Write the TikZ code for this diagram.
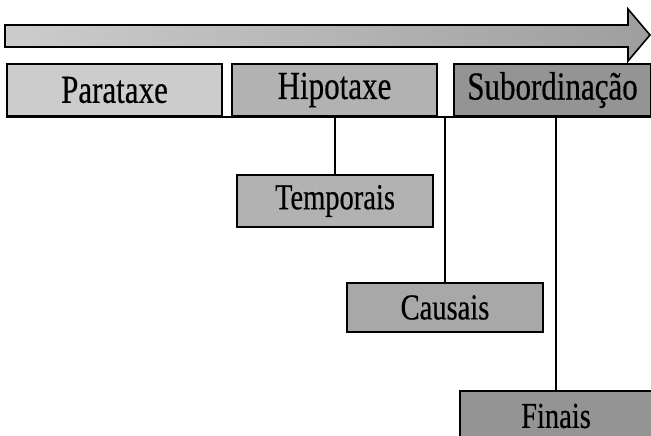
\documentclass[tikz,border=0pt]{standalone}
\usepackage{fontspec}
\setmainfont{Liberation Serif}
\newfontfamily\letra[FakeBold=0.5]{Liberation Serif}
\usepackage{graphicx}
\usepackage{tikz}
\usetikzlibrary{positioning}

\definecolor{cinzaA}{gray}{0.80}
\definecolor{cinzaB}{gray}{0.70}
\definecolor{cinzaC}{gray}{0.58}
\definecolor{cinzaD}{gray}{0.66}

% letra um pouco mais alta, como no original
\newcommand{\alto}[1]{\scalebox{1}[1.28]{#1}}

\tikzset{
	caixa/.style={draw=black, line width=1.6pt, inner sep=0pt, minimum height=52pt},
	topo/.style={caixa, font=\letra\fontsize{31}{31}\selectfont},
	sub/.style={caixa, font=\letra\fontsize{28.5}{28.5}\selectfont},
	liga/.style={line width=1.5pt}
}

\begin{document}
\begin{tikzpicture}[x=1pt,y=-1pt]
	% moldura da figura
	\useasboundingbox (0,0) rectangle (651,436);
	
	% seta grande em cima
	\shade[left color=black!20, right color=black!38, draw=black, line width=1.6pt]
	(5,25) -- (628,25) -- (628,9) -- (650,35) -- (628,61) -- (628,47) -- (5,47) -- cycle;
	
	% 1. caixas de cima
	\node[topo, fill=cinzaA, minimum width=215pt] (parataxe) at (114.5,90) {\alto{Parataxe}};
	\node[topo, fill=cinzaB, minimum width=205pt] (hipotaxe) at (334.5,90) {\alto{Hipotaxe}};
	\node[topo, fill=cinzaC, minimum width=197pt] (subord) at (552.5,90) {\alto{Subordinação}};
	
	% linha de base por baixo das caixas
	\draw[liga] (parataxe.south west) -- (subord.south east);
	
	% 2. caixas de baixo
	\node[sub, fill=cinzaB, minimum width=196pt] (temporais) at (335,201) {\alto{Temporais}};
	\node[sub, fill=cinzaD, minimum width=196pt, minimum height=49pt] (causais) at (445,307.5) {\alto{Causais}};
	\node[sub, fill=cinzaC, minimum width=192pt, minimum height=50pt] (finais) at (556,416) {\alto{Finais}};
	
	% 3. ligações verticais
	\draw[liga] (temporais.north) -- (temporais.north |- parataxe.south);
	\draw[liga] (causais.north) -- (causais.north |- parataxe.south);
	\draw[liga] (finais.north) -- (finais.north |- parataxe.south);
\end{tikzpicture}
\end{document}
